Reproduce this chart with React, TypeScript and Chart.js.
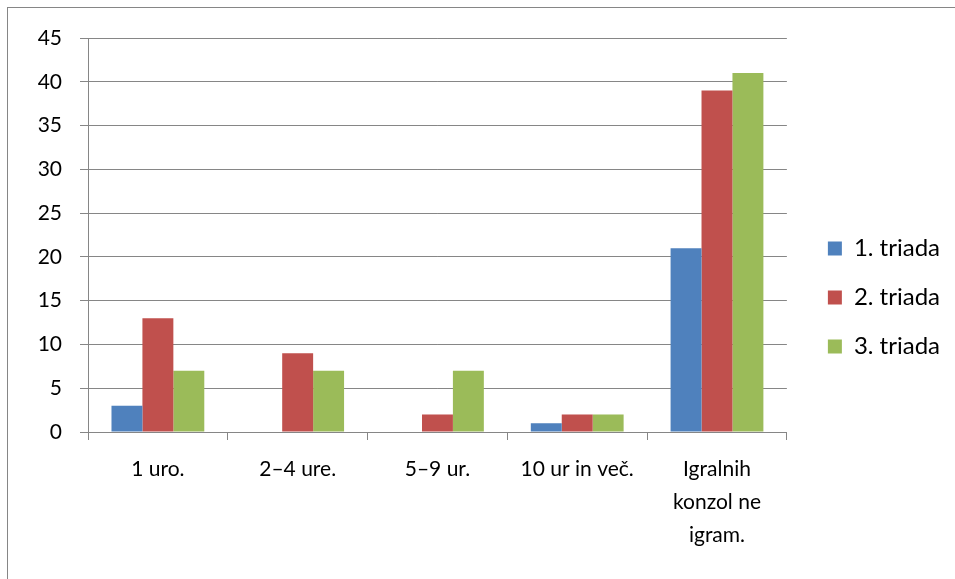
import React, { useEffect, useRef } from "react";
import { Chart, registerables } from "chart.js";

Chart.register(...registerables);

const categories: (string | string[])[] = [
  "1 uro.",
  "2–4 ure.",
  "5–9 ur.",
  "10 ur in več.",
  ["Igralnih", "konzol ne", "igram."],
];
const seriesNames = ["1. triada", "2. triada", "3. triada"];
const triada1 = [3, 0, 0, 1, 21];
const triada2 = [13, 9, 2, 2, 39];
const triada3 = [7, 7, 7, 2, 41];
const yMin = 0;
const yMax = 45;
const yStep = 5;

const colors = ["#4F81BD", "#C0504D", "#9BBB59"];
const gridColor = "#868686";
const fontFamily = "Lato, 'Open Sans', sans-serif";

export default function App() {
  const ref = useRef<HTMLCanvasElement | null>(null);

  useEffect(() => {
    if (!ref.current) return;
    const values = [triada1, triada2, triada3];
    const chart = new Chart(ref.current, {
      type: "bar",
      data: {
        labels: categories,
        datasets: seriesNames.map((name, i) => ({
          label: name,
          data: values[i],
          backgroundColor: colors[i],
          borderWidth: 0,
          categoryPercentage: 0.664,
          barPercentage: 1,
        })),
      },
      options: {
        animation: false,
        responsive: false,
        maintainAspectRatio: false,
        layout: { padding: { top: 16, right: 5, bottom: 0, left: 0 } },
        plugins: {
          tooltip: { enabled: false },
          legend: {
            position: "right",
            labels: {
              boxWidth: 14,
              boxHeight: 14,
              padding: 25,
              color: "#000",
              font: { family: fontFamily, size: 24 },
            },
          },
        },
        scales: {
          x: {
            grid: {
              drawOnChartArea: false,
              drawTicks: true,
              tickLength: 8,
              color: gridColor,
              offset: true,
            },
            border: { color: gridColor },
            ticks: {
              color: "#000",
              font: { family: fontFamily, size: 21, lineHeight: "33px" },
              padding: 13,
              maxRotation: 0,
              autoSkip: false,
            },
            afterFit: (s: any) => {
              s.height = 147;
            },
          },
          topSpacer: {
            type: "category",
            axis: "x",
            position: "top",
            display: true,
            grid: { display: false, drawTicks: false },
            border: { display: false },
            ticks: { display: false },
            afterFit: (s: any) => {
              s.height = 22;
            },
          },
          y: {
            min: yMin,
            max: yMax,
            grid: { color: gridColor, tickLength: 8 },
            border: { color: gridColor },
            ticks: {
              stepSize: yStep,
              color: "#000",
              padding: 18,
              font: { family: fontFamily, size: 21 },
            },
            afterFit: (s: any) => {
              s.width = 88;
            },
          },
          spacer: {
            position: "right",
            display: true,
            grid: { display: false, drawTicks: false },
            border: { display: false },
            ticks: { display: false },
            afterFit: (s: any) => {
              s.width = 16;
            },
          },
        },
      },
    } as any);
    return () => chart.destroy();
  }, []);

  return (
    <div style={{ position: "fixed", left: 0, top: 0, width: 955, height: 579, background: "#fff" }}>
      <div
        style={{
          position: "absolute",
          left: 7,
          top: 7,
          width: 1000,
          height: 700,
          border: "1px solid #868686",
        }}
      />
      <canvas ref={ref} width={955} height={579} style={{ position: "absolute", left: 0, top: 0 }} />
    </div>
  );
}
